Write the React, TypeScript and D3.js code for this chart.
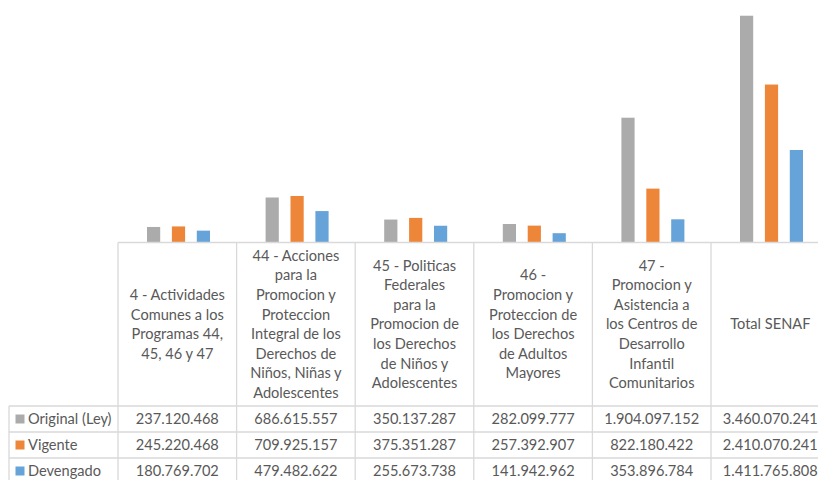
import React from 'react';
import * as d3 from 'd3';

// categories, one array of wrapped lines per column of the data table
const categories = ['p4', 'p44', 'p45', 'p46', 'p47', 'total'];
const categoryLines = [
  ['4 - Actividades', 'Comunes a los', 'Programas 44,', '45, 46 y 47'],
  ['44 - Acciones', 'para la', 'Promocion y', 'Proteccion', 'Integral de los', 'Derechos de', 'Niños, Niñas y', 'Adolescentes'],
  ['45 - Politicas', 'Federales', 'para la', 'Promocion de', 'los Derechos', 'de Niños y', 'Adolescentes'],
  ['46 -', 'Promocion y', 'Proteccion de', 'los Derechos', 'de Adultos', 'Mayores'],
  ['47 -', 'Promocion y', 'Asistencia a', 'los Centros de', 'Desarrollo', 'Infantil', 'Comunitarios'],
  ['Total SENAF'],
];

const seriesNames = ['Original (Ley)', 'Vigente', 'Devengado'];
const seriesColors = ['#ABABAB', '#EE8639', '#66A3D8'];

const original = [237120468, 686615557, 350137287, 282099777, 1904097152, 3460070241];
const vigente = [245220468, 709925157, 375351287, 257392907, 822180422, 2410070241];
const devengado = [180769702, 479482622, 255673738, 141942962, 353896784, 1411765808];
const seriesValues = [original, vigente, devengado];

const W = 818;
const H = 480;
const fontFamily = 'Lato, "Open Sans", sans-serif';
const textColor = '#595959';
const gridColor = '#D9D9D9';

const fmt = (v: number) => d3.format(',')(v).replace(/,/g, '.');

const App = () => {
  const baseY = 242.5;
  const headerBottom = 406;
  const rowH = 26;
  const tableLeft = 9;

  const x = d3.scaleBand<string>()
    .domain(categories)
    .range([118, 118 + 6 * 118.6])
    .padding(0);

  const xInner = d3.scaleBand<string>()
    .domain(seriesNames)
    .range([29, 92])
    .paddingInner(0.47)
    .paddingOuter(0);

  const y = d3.scaleLinear()
    .domain([0, 3700000000])
    .range([baseY, 0]);

  const colEdges = categories.map(c => x(c) as number);
  const right = x.range()[1];
  const headerMid = (baseY + headerBottom) / 2;
  const lineH = 19.6;

  return (
    <svg
      width={W}
      height={H}
      style={{ position: 'absolute', left: 0, top: 0, background: '#fff' }}
      fontFamily={fontFamily}
    >
      <rect width={W} height={H} fill="#fff" />

      {/* bars */}
      {seriesValues.map((vals, si) => (
        <g key={si} fill={seriesColors[si]}>
          {vals.map((v, ci) => (
            <rect
              key={ci}
              x={(x(categories[ci]) as number) + (xInner(seriesNames[si]) as number)}
              y={y(v)}
              width={xInner.bandwidth()}
              height={baseY - y(v)}
            />
          ))}
        </g>
      ))}

      {/* table grid */}
      <g stroke={gridColor} strokeWidth={1.3} fill="none">
        <line x1={118} x2={right} y1={baseY} y2={baseY} />
        {colEdges.map((cx, i) => (
          <line key={i} x1={cx} x2={cx} y1={baseY} y2={H} />
        ))}
        {[0, 1, 2].map(r => (
          <line key={r} x1={tableLeft} x2={right} y1={headerBottom + r * rowH} y2={headerBottom + r * rowH} />
        ))}
        <line x1={tableLeft} x2={tableLeft} y1={headerBottom} y2={H} />
      </g>

      {/* header labels */}
      <g fill={textColor} fontSize={14.6} textAnchor="middle">
        {categoryLines.map((lines, ci) => {
          const cx = (x(categories[ci]) as number) + x.bandwidth() / 2;
          const top = headerMid - ((lines.length - 1) * lineH) / 2;
          return (
            <text key={ci}>
              {lines.map((l, li) => (
                <tspan key={li} x={cx} y={top + li * lineH} dy="0.35em">{l}</tspan>
              ))}
            </text>
          );
        })}
      </g>

      {/* data rows */}
      {seriesNames.map((name, si) => {
        const cy = headerBottom + si * rowH + rowH / 2;
        return (
          <g key={name} fill={textColor} fontSize={14.6}>
            <rect x={15.5} y={cy - 4.5} width={9} height={9} fill={seriesColors[si]} />
            <text x={28} y={cy} dy="0.35em">{name}</text>
            {seriesValues[si].map((v, ci) => (
              <text
                key={ci}
                x={(x(categories[ci]) as number) + x.bandwidth() / 2}
                y={cy}
                dy="0.35em"
                textAnchor="middle"
              >
                {fmt(v)}
              </text>
            ))}
          </g>
        );
      })}
    </svg>
  );
};

export default App;
